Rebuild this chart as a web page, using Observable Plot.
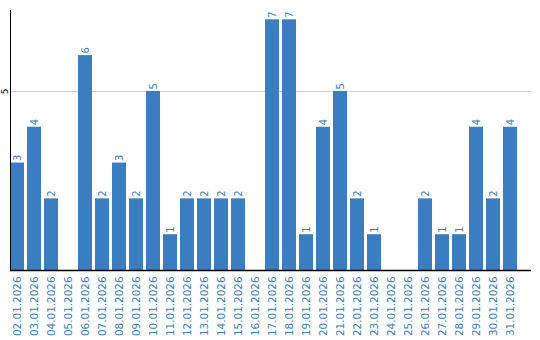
<!DOCTYPE html>
<html><head><meta charset="utf-8">
<script src="https://cdn.jsdelivr.net/npm/d3@7"></script>
<script src="https://cdn.jsdelivr.net/npm/@observablehq/plot@0.6"></script>
<style>body{margin:0;background:#fff}</style>
</head><body><div id="chart"></div>
<script>
const dates = ["02.01.2026","03.01.2026","04.01.2026","05.01.2026","06.01.2026","07.01.2026","08.01.2026","09.01.2026","10.01.2026","11.01.2026","12.01.2026","13.01.2026","14.01.2026","15.01.2026","16.01.2026","17.01.2026","18.01.2026","19.01.2026","20.01.2026","21.01.2026","22.01.2026","23.01.2026","24.01.2026","25.01.2026","26.01.2026","27.01.2026","28.01.2026","29.01.2026","30.01.2026","31.01.2026"];
const counts = [3,4,2,0,6,2,3,2,5,1,2,2,2,2,0,7,7,1,4,5,2,1,0,0,2,1,1,4,2,4];
const yTicks = [5];

const data = dates.map((d, i) => ({date: d, value: counts[i]}));
const blue = "#3b7dc1";

const chart = Plot.plot({
  width: 540, height: 340,
  marginTop: 10, marginBottom: 70, marginLeft: 10, marginRight: 9,
  style: {fontFamily: "DejaVu Sans", fontSize: "10px", background: "#fff"},
  x: {domain: dates, range: [10, 517], paddingInner: 3/17, paddingOuter: 0, label: null},
  y: {domain: [0, 7.26], label: null},
  marks: [
    Plot.ruleY(yTicks, {stroke: "#c8c8c8", strokeWidth: 1}),
    Plot.barY(data, {x: "date", y: "value", fill: blue}),
    Plot.text(data.filter(d => d.value > 0), {x: "date", y: "value", text: d => String(d.value), rotate: -90, textAnchor: "start", dy: -2, fill: blue, fontSize: 10}),
    Plot.axisX({tickSize: 0, tickRotate: -90, tickPadding: 6, fill: blue, fontSize: 10.4, color: blue, label: null}),
    Plot.axisY(yTicks, {tickSize: 0, tickRotate: -90, tickPadding: 3, fontSize: 9, fill: "#000", label: null}),
    Plot.frame({anchor: "left", stroke: "#000"}),
    Plot.ruleY([0], {stroke: "#000", strokeWidth: 1.5})
  ]
});
document.getElementById("chart").appendChild(chart);
</script>
</body></html>
